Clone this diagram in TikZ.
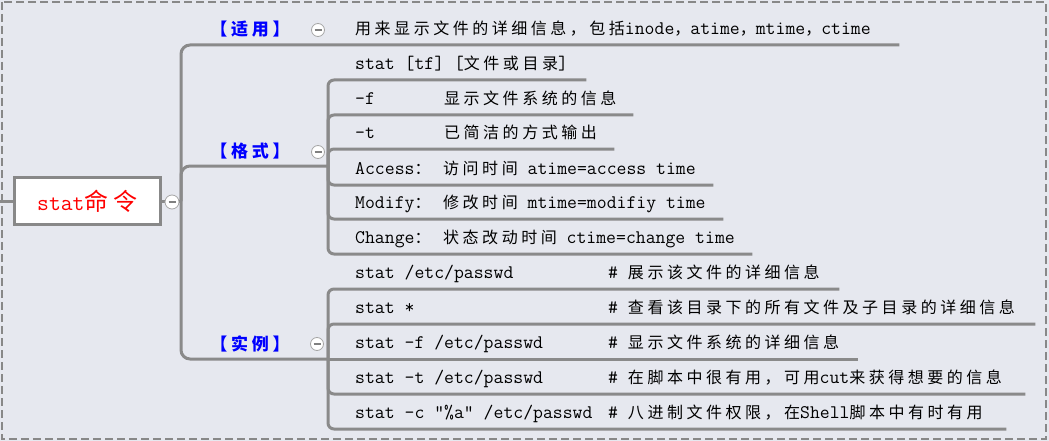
\documentclass[tikz,border=0pt]{standalone}
\usepackage{fontspec}
\newfontfamily\cjk{Noto Sans CJK SC}[LetterSpace=22]
\newcommand\Z[1]{{\fontsize{16}{20}\cjk #1}}
\definecolor{bg}{HTML}{E6E8EF}
\definecolor{ln}{HTML}{8A8A8A}
\definecolor{bd}{HTML}{888888}
\definecolor{lbl}{HTML}{0000FF}
\tikzset{
  conn/.style={draw=ln, line width=3pt},
  leaf/.style={anchor=south west, inner sep=0pt, text height=14pt, text depth=10pt,
    font=\fontsize{19.2}{20}\ttfamily, text=black,
    execute at begin node={\hbox to #1pt\bgroup\hspace*{27pt}},
    execute at end node={\hfil\egroup}},
  rootbox/.style={draw=bd, fill=white, line width=3pt, minimum width=146pt, minimum height=47pt, inner sep=0pt, text=red},
  blabel/.style={inner sep=0pt, text=lbl, font=\fontsize{17}{20}\cjk\bfseries},
  fold/.style={circle, draw=gray!70, fill=white, line width=0.8pt, minimum size=13pt, inner sep=0pt,
    path picture={\draw[gray, line width=1.2pt] ([xshift=-3.5pt]path picture bounding box.center) -- ([xshift=3.5pt]path picture bounding box.center);}},
}
\begin{document}
\begin{tikzpicture}[x=1pt,y=-1pt]
\useasboundingbox (0,0) rectangle (1049,441);
\fill[bg] (0,0) rectangle (1049,441);
\draw[bd, line width=2pt, dash pattern=on 8pt off 4pt] (2,2) rectangle (1046,439);

% root
\node[rootbox] (root) at (87.5,201) {{\fontsize{23}{24}\ttfamily stat}{\fontsize{24}{26}\cjk 命令}};

% branch labels
\node[blabel] (b1) at (250,29) {【适用】};
\node[blabel] (b2) at (250,151) {【格式】};
\node[blabel] (b3) at (250,344) {【实例】};

% leaves
\node[leaf=571] (c0) at (328,45) {\Z{用来显示文件的详细信息，包括}inode\Z{，}atime\Z{，}mtime\Z{，}ctime};
\node[leaf=258] (c1) at (328,80) {stat [tf] [\Z{文件或目录}]};
\node[leaf=305] (c2) at (328,115) {\hbox to 89pt{-f\hfil}\Z{显示文件系统的信息}};
\node[leaf=286] (c3) at (328,149) {\hbox to 89pt{-t\hfil}\Z{已简洁的方式输出}};
\node[leaf=385] (c4) at (328,185) {\hbox to 88pt{Access\Z{：}\hfil}\Z{访问时间} atime=access time};
\node[leaf=395] (c5) at (328,219) {\hbox to 88pt{Modify\Z{：}\hfil}\Z{修改时间} mtime=modifiy time};
\node[leaf=424] (c6) at (328,254) {\hbox to 88pt{Change\Z{：}\hfil}\Z{状态改动时间} ctime=change time};

\node[leaf=511] (d1) at (328,289) {\hbox to 253pt{stat /etc/passwd\hfil}\# \Z{展示该文件的详细信息}};
\node[leaf=707] (d2) at (328,324) {\hbox to 253pt{stat *\hfil}\# \Z{查看该目录下的所有文件及子目录的详细信息}};
\node[leaf=530] (d3) at (328,359) {\hbox to 253pt{stat -f /etc/passwd\hfil}\# \Z{显示文件系统的详细信息}};
\node[leaf=697] (d4) at (328,394) {\hbox to 253pt{stat -t /etc/passwd\hfil}\# \Z{在脚本中很有用，可用}cut\Z{来获得想要的信息}};
\node[leaf=678] (d5) at (328,429) {\hbox to 253pt{stat -c "\%a" /etc/passwd\hfil}\# \Z{八进制文件权限，在}Shell\Z{脚本中有时有用}};

% junctions
\coordinate (in) at (0,201);
\coordinate (trunk) at (181,201);
\coordinate (jf) at (328,166);
\coordinate (jx) at (328,359);

% connectors
\draw[conn] (in) -- (root.west);
\draw[conn] (root.east) -- (trunk);
\draw[conn, rounded corners=9pt] (trunk) |- (c0.south east);
\draw[conn, rounded corners=9pt] (trunk) |- (jf);
\draw[conn, rounded corners=9pt] (trunk) |- (jx);
\foreach \c in {c1,c2,c3,c4,c5,c6}{\draw[conn, rounded corners=6pt] (jf) |- (\c.south east);}
\foreach \c in {d1,d2,d4,d5}{\draw[conn, rounded corners=6pt] (jx) |- (\c.south east);}
\draw[conn] (jx) -- (d3.south east);

% fold markers
\node[fold, minimum size=14pt] (f0) at (172,202) {};
\node[fold] (f1) at (318,30) {};
\node[fold] (f2) at (318,152) {};
\node[fold] (f3) at (317,344) {};
\end{tikzpicture}
\end{document}
